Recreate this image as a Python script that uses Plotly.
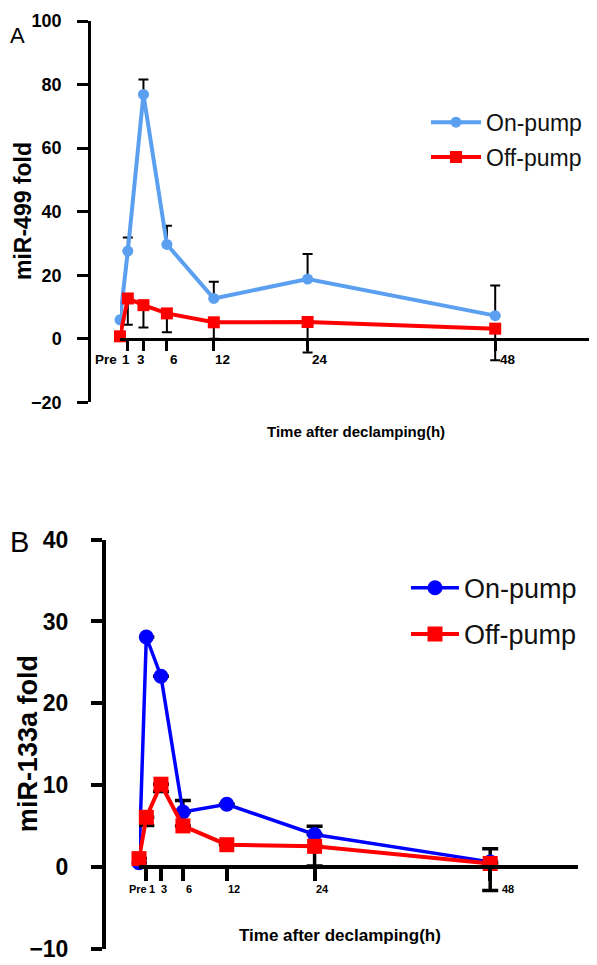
import plotly.graph_objects as go

# ---------------- data ----------------
time_labels = ["Pre", "1", "3", "6", "12", "24", "48"]
hours = [0, 1, 3, 6, 12, 24, 48]
tick_hours = [1, 3, 6, 12, 24, 48]

# Panel A: miR-499
on_a = [6.0, 27.6, 76.9, 29.7, 12.7, 18.8, 7.3]
on_a_err = [0, 4.3, 4.7, 5.9, 5.3, 7.9, 9.5]
off_a = [0.8, 12.7, 10.6, 8.0, 5.2, 5.3, 3.2]
off_a_err = [0, 8.3, 7.0, 5.9, 5.2, 9.6, 9.9]

# Panel B: miR-133a
on_b = [0.5, 28.1, 23.3, 6.7, 7.65, 3.95, 0.6]
on_b_err = [0, 0, 0, 1.4, 0, 1.0, 1.6]
off_b = [1.0, 6.05, 10.1, 5.0, 2.7, 2.5, 0.4]
off_b_err = [0, 1.0, 0.9, 0, 0, 2.4, 3.3]

yticks_a = [-20, 0, 20, 40, 60, 80, 100]
yticks_b = [-10, 0, 10, 20, 30, 40]

series_names = ["On-pump", "Off-pump"]

# ---------------- style / page mapping ----------------
OX = 8            # left offset of the plot div in the page
OY, SY = 20.4, 0.971  # observed vertical offset and scale of the page
FW, FH = 581, 965
FONT = "Arial, Liberation Sans, sans-serif"
BLUE_A = "#5BA0F0"
BLUE_B = "#0000FF"
RED = "#FF0000"


def fx(p):
    return min(1.0, max(0.0, (p - OX) / FW))


def fy(p):
    return min(1.0, max(0.0, 1 - ((p - OY) / SY) / FH))


def py(d):
    return d / SY


zeros = [0] * len(hours)

fig = go.Figure()

# Panel A traces
fig.add_trace(go.Scatter(
    x=hours, y=on_a, name=series_names[0], mode="lines+markers",
    line=dict(color=BLUE_A, width=4),
    marker=dict(symbol="circle", size=11, color=BLUE_A),
    error_y=dict(type="data", symmetric=False, array=on_a_err, arrayminus=zeros,
                 color="black", thickness=2, width=5),
    cliponaxis=False, xaxis="x", yaxis="y", legend="legend", legendgroup="a1"))
fig.add_trace(go.Scatter(
    x=hours, y=off_a, name=series_names[1], mode="lines+markers",
    line=dict(color=RED, width=4),
    marker=dict(symbol="square", size=12, color=RED),
    error_y=dict(type="data", symmetric=False, array=zeros, arrayminus=off_a_err,
                 color="black", thickness=2, width=5),
    cliponaxis=False, xaxis="x", yaxis="y", legend="legend", legendgroup="a2"))

# Panel B traces
fig.add_trace(go.Scatter(
    x=hours, y=on_b, name=series_names[0], mode="lines+markers",
    line=dict(color=BLUE_B, width=3.5),
    marker=dict(symbol="circle", size=15, color=BLUE_B),
    error_y=dict(type="data", symmetric=False, array=on_b_err, arrayminus=zeros,
                 color="black", thickness=3.5, width=8),
    cliponaxis=False, xaxis="x2", yaxis="y2", legend="legend2", legendgroup="b1"))
fig.add_trace(go.Scatter(
    x=hours, y=off_b, name=series_names[1], mode="lines+markers",
    line=dict(color=RED, width=4),
    marker=dict(symbol="square", size=15, color=RED),
    error_y=dict(type="data", symmetric=False, array=zeros, arrayminus=off_b_err,
                 color="black", thickness=3.5, width=8),
    cliponaxis=False, xaxis="x2", yaxis="y2", legend="legend2", legendgroup="b2"))

# ---------------- axes ----------------
ya_dom = [fy(401), fy(13)]
ya_rng = [-20, 100]
yb_dom = [fy(946), fy(538)]
yb_rng = [-10, 40]


def zero_pos(dom, rng):
    return dom[0] + (0 - rng[0]) / (rng[1] - rng[0]) * (dom[1] - dom[0])


common_x = dict(range=[0, 60], anchor="free", showline=True, linecolor="black",
                ticks="outside", tickcolor="black", tickvals=tick_hours,
                showticklabels=False, showgrid=False, zeroline=False)
common_y = dict(anchor="free", showline=True, linecolor="black", ticks="outside",
                tickcolor="black", showgrid=False, zeroline=False)

fig.update_layout(
    width=FW, height=FH, margin=dict(l=0, r=0, t=0, b=0),
    paper_bgcolor="white", plot_bgcolor="white",
    font=dict(family=FONT, color="black"),
    xaxis=dict(domain=[fx(120), fx(589)], position=zero_pos(ya_dom, ya_rng),
               linewidth=2.5, ticklen=10, tickwidth=2.5, **common_x),
    yaxis=dict(domain=ya_dom, range=ya_rng, position=fx(89), tickvals=yticks_a,
               linewidth=2.5, ticklen=11, tickwidth=2.5, ticklabelstandoff=12,
               tickfont=dict(size=18, weight="bold", family=FONT), **common_y),
    xaxis2=dict(domain=[fx(139), fx(578)], position=zero_pos(yb_dom, yb_rng),
                linewidth=3.5, ticklen=12, tickwidth=3.5, **common_x),
    yaxis2=dict(domain=yb_dom, range=yb_rng, position=fx(104), tickvals=yticks_b,
                linewidth=4, ticklen=11, tickwidth=4, ticklabelstandoff=18,
                tickfont=dict(size=23, weight="bold", family=FONT), **common_y),
    legend=dict(x=fx(426), y=fy(100), xanchor="left", yanchor="top",
                font=dict(size=23, family=FONT, color="#111"),
                bgcolor="rgba(0,0,0,0)", tracegroupgap=2, itemwidth=50),
    legend2=dict(x=fx(406), y=fy(562), xanchor="left", yanchor="top",
                 font=dict(size=27, family=FONT, color="#111"),
                 bgcolor="rgba(0,0,0,0)", tracegroupgap=8, itemwidth=48),
)

# ---------------- x tick labels (offset like the original) ----------------
shift_a = [-14, -2, -2.5, 7, 8.5, 12, 13]
shift_b = [-1, 6, 3, 6.5, 7, 8, 17.5]
for lab, h, s in zip(time_labels, hours, shift_a):
    fig.add_annotation(x=h, y=0, xref="x", yref="y", text=lab, showarrow=False,
                       xshift=s, yshift=-py(20.5), xanchor="center", yanchor="middle",
                       font=dict(size=13.5, weight="bold", family=FONT))
for lab, h, s in zip(time_labels, hours, shift_b):
    fig.add_annotation(x=h, y=0, xref="x2", yref="y2", text=lab, showarrow=False,
                       xshift=s, yshift=-py(22), xanchor="center", yanchor="middle",
                       font=dict(size=11, weight="bold", family=FONT))

# ---------------- titles ----------------
fig.add_annotation(x=fx(356), y=fy(430), xref="paper", yref="paper",
                   text="Time after declamping(h)", showarrow=False,
                   xanchor="center", yanchor="middle",
                   font=dict(size=15, weight="bold", family=FONT))
fig.add_annotation(x=fx(237), y=fy(933), xref="paper", yref="paper",
                   text="Time after declamping(h)", showarrow=False,
                   xanchor="left", yanchor="middle",
                   font=dict(size=17, weight="bold", family=FONT))
fig.add_annotation(x=fx(23), y=fy(210), xref="paper", yref="paper",
                   text="miR-499 fold", showarrow=False, textangle=-90,
                   xanchor="center", yanchor="middle",
                   font=dict(size=23, weight="bold", family=FONT))
fig.add_annotation(x=fx(28), y=fy(742), xref="paper", yref="paper",
                   text="miR-133a fold", showarrow=False, textangle=-90,
                   xanchor="center", yanchor="middle",
                   font=dict(size=27, weight="bold", family=FONT))
fig.add_annotation(x=0, y=1, xref="paper", yref="paper",
                   text="A", showarrow=False, xanchor="left", yanchor="top",
                   font=dict(size=22, family=FONT))
fig.add_annotation(x=0, y=fy(522), xref="paper", yref="paper",
                   text="B", showarrow=False, xanchor="left", yanchor="top",
                   font=dict(size=29, family=FONT))

fig.write_html("out.html")
